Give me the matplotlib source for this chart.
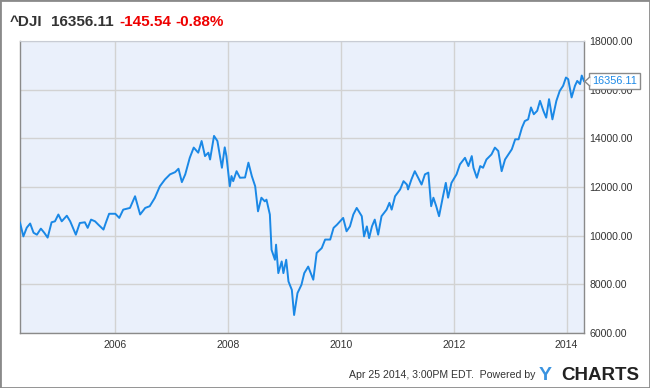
import matplotlib
matplotlib.use("Agg")
import matplotlib.pyplot as plt
import matplotlib.transforms as mtransforms
from matplotlib.path import Path
from matplotlib.patches import Rectangle

# Dow Jones weekly-ish closes (decimal year, value)
years = [
    2004.31, 2004.37, 2004.43, 2004.49, 2004.55, 2004.61, 2004.68, 2004.74, 2004.80, 2004.87,
    2004.93, 2004.99, 2005.05, 2005.14, 2005.20, 2005.30, 2005.37, 2005.46, 2005.51, 2005.57,
    2005.64, 2005.70, 2005.79, 2005.83, 2005.89, 2006.00, 2006.07, 2006.14, 2006.26, 2006.35,
    2006.44, 2006.53, 2006.61, 2006.70, 2006.79, 2006.88, 2006.97, 2007.06, 2007.12, 2007.18,
    2007.24, 2007.32, 2007.39, 2007.47, 2007.53, 2007.59, 2007.65, 2007.68, 2007.75, 2007.81,
    2007.89, 2007.94, 2007.97, 2008.03, 2008.06, 2008.09, 2008.15, 2008.21, 2008.30, 2008.36,
    2008.42, 2008.48, 2008.53, 2008.59, 2008.65, 2008.68, 2008.74, 2008.77, 2008.83, 2008.85,
    2008.89, 2008.95, 2008.98, 2009.03, 2009.07, 2009.13, 2009.17, 2009.23, 2009.30, 2009.35,
    2009.42, 2009.51, 2009.57, 2009.66, 2009.72, 2009.81, 2009.87, 2009.93, 2010.04, 2010.10,
    2010.16, 2010.22, 2010.28, 2010.37, 2010.41, 2010.46, 2010.50, 2010.55, 2010.60, 2010.66,
    2010.72, 2010.81, 2010.86, 2010.90, 2010.96, 2011.05, 2011.11, 2011.17, 2011.19, 2011.25,
    2011.31, 2011.37, 2011.43, 2011.49, 2011.55, 2011.60, 2011.64, 2011.69, 2011.74, 2011.81,
    2011.86, 2011.90, 2011.96, 2012.05, 2012.11, 2012.20, 2012.26, 2012.32, 2012.35, 2012.41,
    2012.47, 2012.52, 2012.58, 2012.67, 2012.73, 2012.79, 2012.85, 2012.91, 2012.97, 2013.03,
    2013.09, 2013.15, 2013.21, 2013.26, 2013.32, 2013.37, 2013.42, 2013.48, 2013.53, 2013.59,
    2013.64, 2013.69, 2013.75, 2013.82, 2013.88, 2013.94, 2013.99, 2014.03, 2014.09, 2014.15,
    2014.19, 2014.24, 2014.27, 2014.31,
]
closes = [
    10536, 9970, 10330, 10500, 10120, 10040, 10290, 10120, 9920, 10550,
    10590, 10870, 10590, 10820, 10590, 10040, 10520, 10550, 10320, 10660,
    10590, 10450, 10250, 10520, 10900, 10900, 10730, 11070, 11140, 11620,
    10870, 11140, 11210, 11550, 12030, 12310, 12520, 12610, 12750, 12200,
    12520, 13200, 13620, 13410, 13890, 13270, 13410, 13130, 14100, 13890,
    12790, 13630, 13270, 12030, 12450, 12240, 12650, 12380, 12390, 13000,
    12450, 12030, 11000, 11560, 11410, 11480, 10870, 9420, 9010, 9630,
    8460, 8940, 8460, 9010, 8120, 7770, 6740, 7640, 7980, 8460,
    8730, 8190, 9290, 9490, 9840, 9840, 10320, 10450, 10730, 10180,
    10380, 10870, 11140, 10800, 9970, 10380, 9900, 10380, 10660, 10040,
    10800, 11070, 11350, 11070, 11620, 11900, 12240, 12100, 11900, 12310,
    12650, 12380, 12100, 12520, 12590, 11210, 11560, 11210, 10800, 11620,
    12170, 11560, 12170, 12520, 12930, 13200, 12860, 13270, 12790, 12380,
    12860, 12790, 13130, 13340, 13620, 13480, 12650, 13130, 13340, 13550,
    13960, 13960, 14440, 14710, 14780, 15270, 14990, 15130, 15540, 15130,
    14850, 15610, 14780, 15540, 15950, 16160, 16500, 16430, 15680, 16160,
    16360, 16230, 16580, 16356.11,
]

x_ticks = [2006, 2008, 2010, 2012, 2014]
y_ticks = [6000, 8000, 10000, 12000, 14000, 16000, 18000]

plt.rcParams['font.family'] = ['Liberation Sans', 'DejaVu Sans']

fig = plt.figure(figsize=(6.5, 3.88), dpi=100)
fig.patch.set_facecolor('white')
ax = fig.add_axes([20 / 650, 55 / 388, 564 / 650, 292 / 388])
ax.set_facecolor('#eaf0fb')

ax.plot(years, closes, color='#1a88e6', lw=1.4, zorder=3)

ax.set_xlim(2004.31, 2014.31)
ax.set_ylim(6000, 18000)
ax.set_xticks(x_ticks)
ax.set_xticklabels([str(y) for y in x_ticks])
ax.set_yticks(y_ticks)
ax.set_yticklabels([f"{v:.2f}" for v in y_ticks])
ax.yaxis.tick_right()
ax.tick_params(length=0, labelsize=7.6, colors='#333333')
ax.tick_params(axis='y', pad=4)
ax.tick_params(axis='x', pad=5)
ax.grid(True, color='#d2d2d2', lw=1)
ax.set_axisbelow(True)
for side in ['left', 'bottom', 'right']:
    ax.spines[side].set_color('#8a8a8a')
    ax.spines[side].set_linewidth(1)
ax.spines['top'].set_color('#c8ccd4')

# last value flag
last_x, last_y = years[-1], closes[-1]
ax.annotate(f"{last_y:.2f}", xy=(last_x, last_y), xytext=(8, 0),
            textcoords='offset pixels', ha='left', va='center',
            fontsize=7.8, color='#1a88e6', annotation_clip=False, zorder=6,
            bbox=dict(boxstyle='square,pad=0.3', fc='white', ec='#8a8a8a', lw=1))
pointer = Path([(0.55, 1), (-0.55, 0), (0.55, -1)],
               [Path.MOVETO, Path.LINETO, Path.LINETO])
tr = mtransforms.offset_copy(ax.transData, fig=fig, x=3, y=0, units='dots')
ax.plot([last_x], [last_y], marker=pointer, ms=7, mfc='white', mec='#8a8a8a',
        mew=1, transform=tr, clip_on=False, zorder=7)

# header
fig.text(10 / 650, 1 - 26 / 388, "^DJI", fontsize=11, fontweight='bold',
         color='#333333', va='baseline')
fig.text(51 / 650, 1 - 26 / 388, "16356.11", fontsize=11, fontweight='bold',
         color='#333333', va='baseline')
fig.text(119 / 650, 1 - 26 / 388, "-145.54", fontsize=11, fontweight='bold',
         color='#ee0000', va='baseline')
fig.text(175 / 650, 1 - 26 / 388, "-0.88%", fontsize=11, fontweight='bold',
         color='#ee0000', va='baseline')

# footer
fig.text(535 / 650, 1 - 378 / 388, "Apr 25 2014, 3:00PM EDT.  Powered by",
         fontsize=7.6, color='#333333', ha='right', va='baseline')
fig.text(539 / 650, 1 - 380 / 388, "Y", fontsize=14, fontweight='bold',
         color='#3a93e0', ha='left', va='baseline')
fig.text(639 / 650, 1 - 380 / 388, "CHARTS", fontsize=13.5, fontweight='bold',
         color='#222222', ha='right', va='baseline')

# outer frame
fig.patches.append(Rectangle((0, 0), 1, 1, transform=fig.transFigure,
                             fill=False, ec='#8a8a8a', lw=2))

fig.savefig('out.png', dpi=100)
